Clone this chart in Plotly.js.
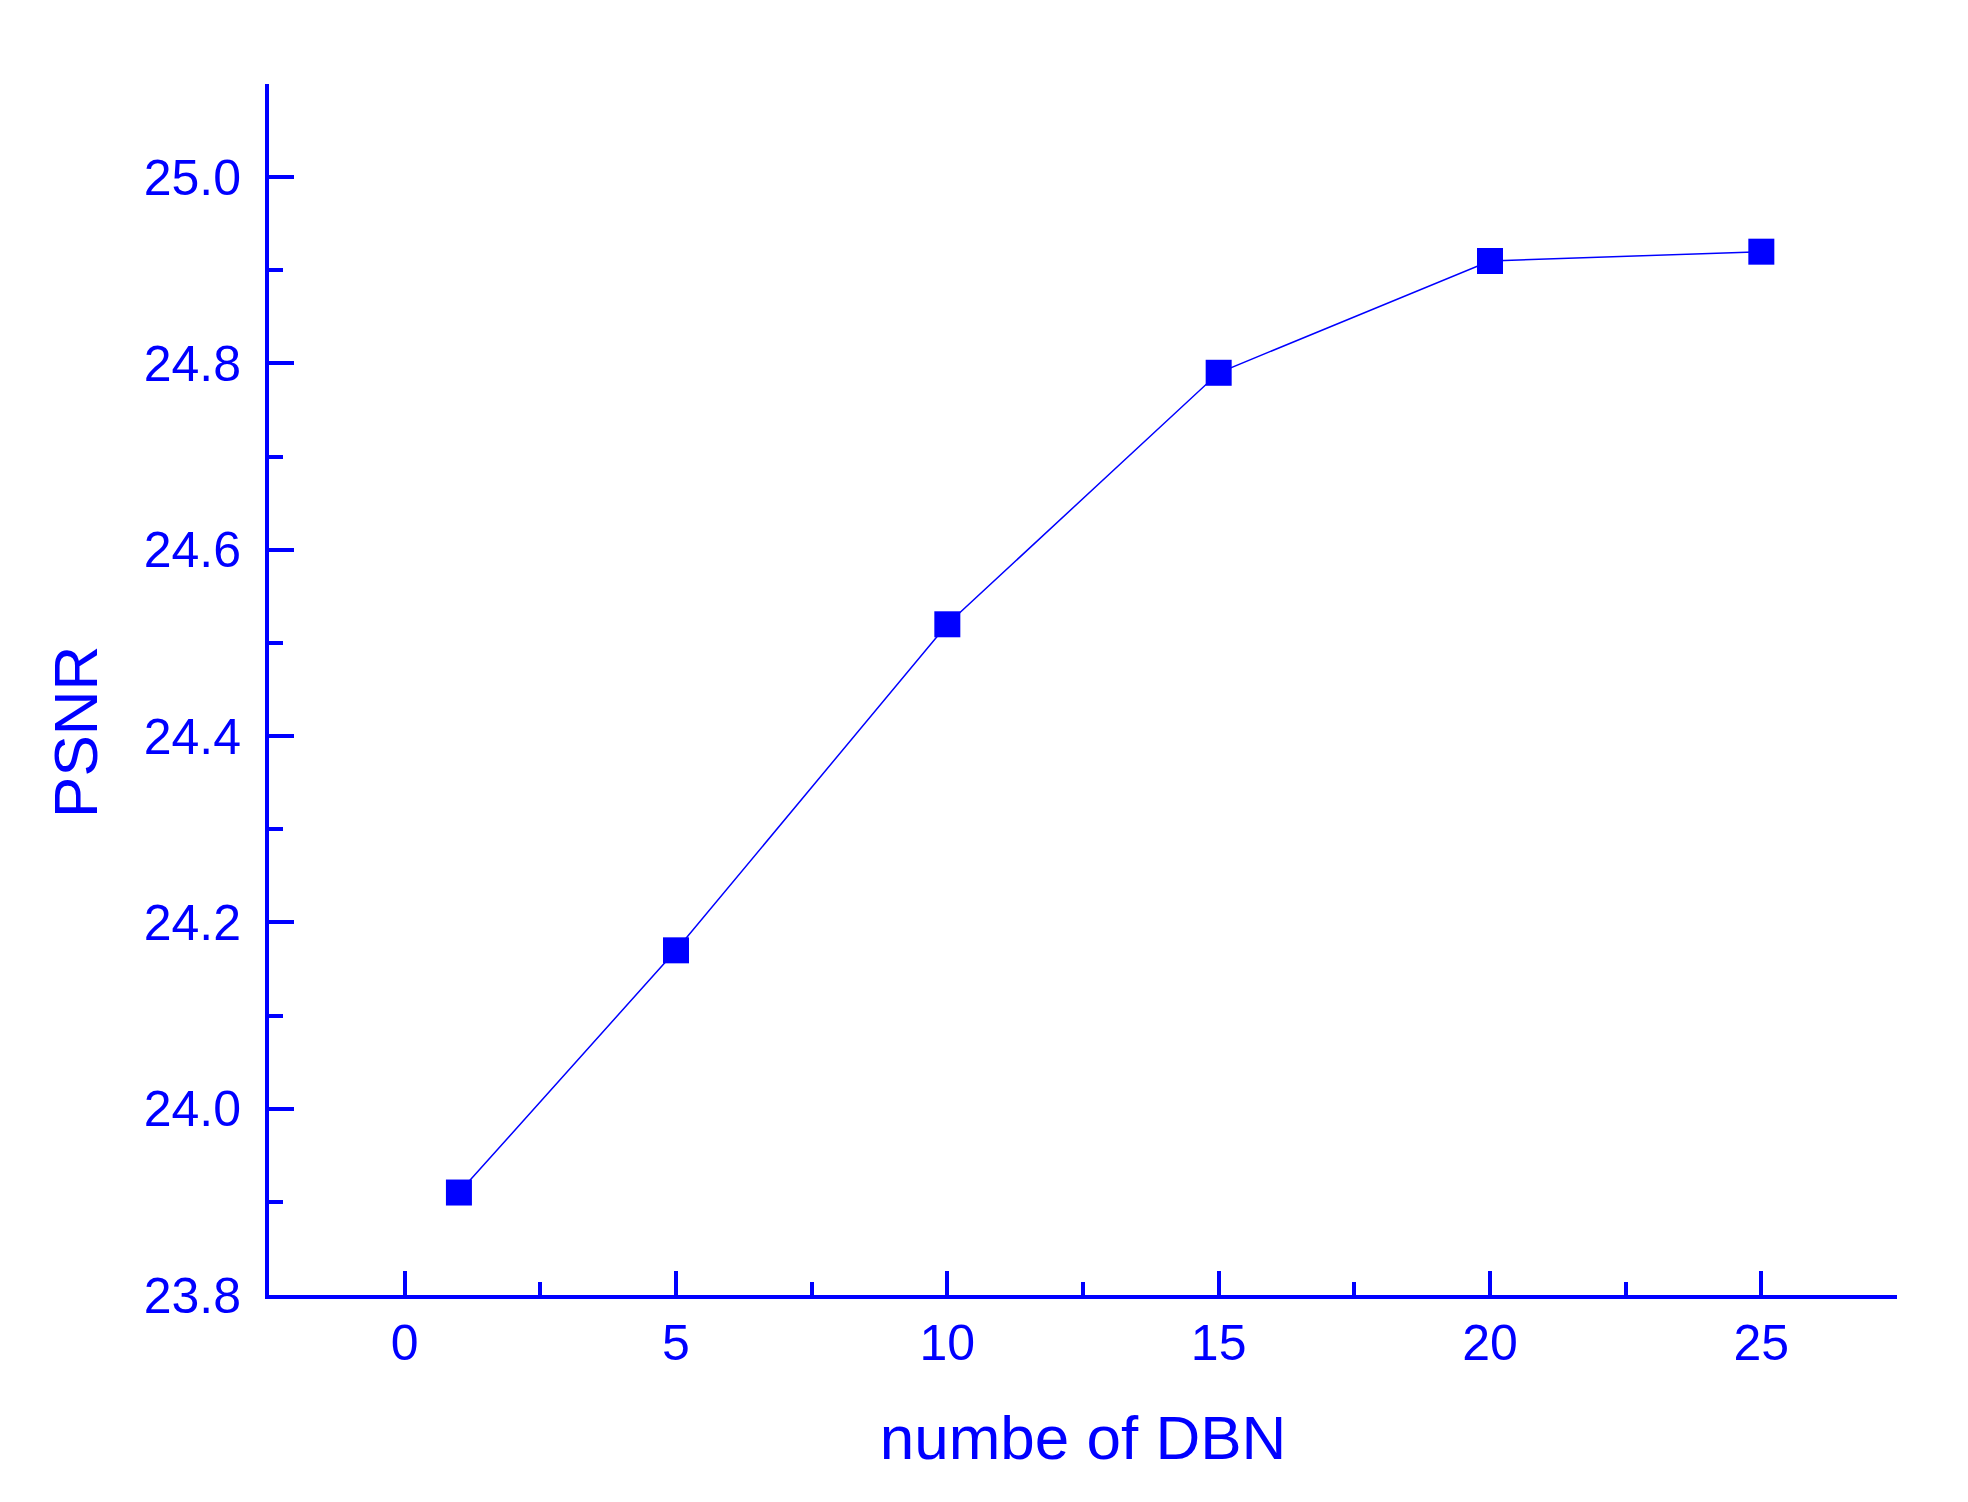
<!DOCTYPE html>
<html>
<head>
<meta charset="utf-8">
<script src="https://cdn.plot.ly/plotly-3.0.1.min.js"></script>
<style>html,body{margin:0;padding:0;background:#fff;}#chart{width:1968px;height:1502px;}</style>
</head>
<body>
<div id="chart"></div>
<script>
const dbnCount = [1, 5, 10, 15, 20, 25];
const psnr = [23.91, 24.17, 24.52, 24.79, 24.91, 24.92];
const xTickVals = [0, 5, 10, 15, 20, 25];
const yTickVals = [23.8, 24.0, 24.2, 24.4, 24.6, 24.8, 25.0];
const xTitle = 'numbe of DBN';
const yTitle = 'PSNR';

const blue = '#0000ff';
const fontFam = '"Liberation Sans", Arial, sans-serif';

const trace = {
  x: dbnCount,
  y: psnr,
  type: 'scatter',
  mode: 'lines+markers',
  line: {color: blue, width: 1.5},
  marker: {symbol: 'square', size: 26, color: blue},
  showlegend: false
};

const layout = {
  width: 1968,
  height: 1502,
  paper_bgcolor: '#fff',
  plot_bgcolor: '#fff',
  margin: {l: 269, r: 71, t: 84, b: 207},
  font: {family: fontFam, color: blue, size: 50},
  xaxis: {
    range: [-2.5, 27.5],
    tickvals: xTickVals,
    ticktext: xTickVals.map(String),
    ticks: 'inside',
    ticklen: 24,
    tickwidth: 4,
    tickcolor: blue,
    showline: true,
    linecolor: blue,
    linewidth: 4,
    showgrid: false,
    zeroline: false,
    tickfont: {family: fontFam, size: 50, color: blue},
    ticklabelstandoff: 1,
    minor: {ticks: 'inside', ticklen: 13, tickwidth: 4, tickcolor: blue, dtick: 2.5, tick0: 0, showgrid: false},
    title: {text: xTitle, font: {family: fontFam, size: 62, color: blue}, standoff: 47}
  },
  yaxis: {
    range: [23.8, 25.1],
    tickvals: yTickVals,
    ticktext: yTickVals.map(v => v.toFixed(1)),
    ticks: 'inside',
    ticklen: 25,
    tickwidth: 4,
    tickcolor: blue,
    showline: true,
    linecolor: blue,
    linewidth: 4,
    showgrid: false,
    zeroline: false,
    tickfont: {family: fontFam, size: 50, color: blue},
    ticklabelstandoff: 14,
    minor: {ticks: 'inside', ticklen: 14, tickwidth: 4, tickcolor: blue, dtick: 0.1, tick0: 23.8, showgrid: false}
  },
  annotations: [{
    text: yTitle,
    xref: 'paper', yref: 'paper',
    x: -0.1185, y: 0.4650,
    xanchor: 'center', yanchor: 'middle',
    textangle: -90,
    showarrow: false,
    font: {family: fontFam, size: 62, color: blue}
  }]
};

Plotly.newPlot('chart', [trace], layout, {displayModeBar: false, staticPlot: true});
</script>
</body>
</html>
